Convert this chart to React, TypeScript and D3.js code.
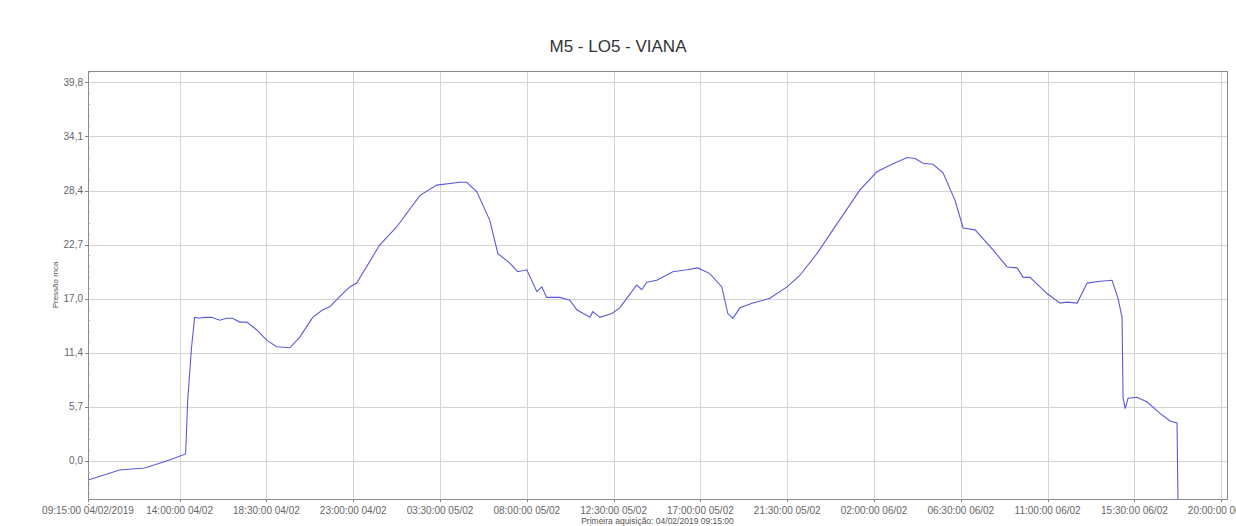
import React from 'react';
import * as d3 from 'd3';

// first acquisition: 04/02/2019 09:15:00
const startTime = new Date(2019, 1, 4, 9, 15, 0);

// hours elapsed since the first acquisition
const elapsedHours: number[] = [
    0, 1.64, 2.94, 4.23, 5.06, 5.17, 5.37, 5.53, 5.79, 6.05, 6.41, 6.83, 7.19, 7.5, 7.86, 8.23,
    8.74, 9.26, 9.78, 10.46, 10.97, 11.65, 12.17, 12.53, 13.2, 13.57, 13.93, 15.12, 16.0, 17.2,
    18.08, 19.27, 19.64, 20.16, 20.83, 21.25, 21.87, 22.28, 22.75, 23.27, 23.53, 23.78, 24.46,
    24.98, 25.34, 26.02, 26.17, 26.54, 27.16, 27.57, 27.93, 28.45, 28.71, 28.97, 29.49, 30.32,
    31.05, 31.62, 32.24, 32.86, 33.17, 33.43, 33.8, 34.47, 35.35, 36.24, 36.9, 37.79, 38.62,
    40.02, 40.9, 41.58, 42.46, 42.88, 43.29, 43.81, 44.33, 44.95, 45.37, 45.99, 46.92, 47.65,
    48.17, 48.48, 48.84, 49.72, 50.4, 50.76, 51.28, 51.8, 52.47, 53.09, 53.4, 53.61, 53.66,
    53.77, 53.92, 54.39, 54.91, 55.58, 56.1, 56.46, 56.51
];

// pressure (mca)
const pressure: number[] = [
    -2.0, -0.95, -0.74, 0.1, 0.74, 6.4, 12.0, 15.1, 15.0, 15.1, 15.1, 14.8, 15.0, 15.0, 14.6, 14.6,
    13.8, 12.7, 12.0, 11.9, 13.0, 15.1, 15.9, 16.2, 17.6, 18.3, 18.7, 22.7, 24.6, 27.9,
    29.0, 29.3, 29.3, 28.3, 25.3, 21.8, 20.8, 19.9, 20.1, 17.8, 18.3, 17.2, 17.2,
    16.9, 15.9, 15.1, 15.7, 15.1, 15.5, 16.1, 17.1, 18.5, 18.0, 18.8, 19.0, 19.9,
    20.1, 20.3, 19.7, 18.3, 15.5, 15.0, 16.1, 16.6, 17.1, 18.3, 19.5, 21.8, 24.3,
    28.5, 30.4, 31.1, 31.9, 31.8, 31.3, 31.2, 30.3, 27.4, 24.5, 24.3, 22.2, 20.4,
    20.3, 19.3, 19.3, 17.6, 16.6, 16.7, 16.6, 18.7, 18.9, 19.0, 17.1, 15.1, 6.7,
    5.5, 6.6, 6.7, 6.2, 5.0, 4.2, 4.0, -4.5
];

// x axis ticks, hours since first acquisition
const xTickHours: number[] = [0, 4.75, 9.25, 13.75, 18.25, 22.75, 27.25, 31.75, 36.25, 40.75, 45.25, 49.75, 54.25, 58.75];
const xTickLabels: string[] = [
    '09:15:00 04/02/2019', '14:00:00 04/02', '18:30:00 04/02', '23:00:00 04/02',
    '03:30:00 05/02', '08:00:00 05/02', '12:30:00 05/02', '17:00:00 05/02', '21:30:00 05/02',
    '02:00:00 06/02', '06:30:00 06/02', '11:00:00 06/02', '15:30:00 06/02', '20:00:00 06/02'
];

const yTicks: number[] = [0, 5.686, 11.371, 17.057, 22.743, 28.429, 34.114, 39.8];
const yTickLabels: string[] = ['0,0', '5,7', '11,4', '17,0', '22,7', '28,4', '34,1', '39,8'];

const title = 'M5 - LO5 - VIANA';
const yTitle = 'Pressão mca';
const footer = 'Primeira aquisição: 04/02/2019 09:15:00';

const W = 1236;
const H = 526;
const margin = { top: 71, right: 9, bottom: 27, left: 88 };
const HOUR = 3600 * 1000;

function App() {
    const at = (h: number) => new Date(startTime.getTime() + h * HOUR);

    const x = d3.scaleTime()
        .domain([startTime, at(59.05)])
        .range([margin.left, W - margin.right]);

    const y = d3.scaleLinear()
        .domain([-4.0, 41.0])
        .range([H - margin.bottom, margin.top]);

    const points: [Date, number][] = elapsedHours.map((h, i) => [at(h), pressure[i]]);
    const line = d3.line<[Date, number]>()
        .x(d => x(d[0]))
        .y(d => y(d[1]));

    const step = yTicks[1] - yTicks[0];
    const yMinor: number[] = [];
    yTicks.forEach(t => {
        for (let k = 1; k < 5; k++) {
            const v = t + (step * k) / 5;
            if (v < 41) yMinor.push(v);
        }
    });
    for (let k = 1; k < 5; k++) yMinor.push(-step * k / 5);

    const x0 = margin.left;
    const x1 = W - margin.right;
    const y0 = margin.top;
    const y1 = H - margin.bottom;
    const font = '"Liberation Sans", Arial, sans-serif';

    return (
        <svg width={W} height={H} style={{ position: 'fixed', left: 0, top: 0, background: '#fff' }}>
            <defs>
                <clipPath id="plot-clip">
                    <rect x={x0} y={y0} width={x1 - x0} height={y1 - y0} />
                </clipPath>
            </defs>

            <text x={W / 2} y={52} textAnchor="middle" fontFamily={font} fontSize={17} fill="#333">
                {title}
            </text>

            {/* grid */}
            <g stroke="#d4d4d4" strokeWidth={1}>
                {yTicks.map((t, i) => (
                    <line key={'gy' + i} x1={x0} x2={x1} y1={Math.round(y(t)) + 0.5} y2={Math.round(y(t)) + 0.5} />
                ))}
                {xTickHours.slice(1).map((h, i) => (
                    <line key={'gx' + i} y1={y0} y2={y1} x1={Math.round(x(at(h))) + 0.5} x2={Math.round(x(at(h))) + 0.5} />
                ))}
            </g>

            <path d={line(points) || ''} fill="none" stroke="#5a5ade" strokeWidth={1.1} clipPath="url(#plot-clip)" />

            {/* frame */}
            <rect x={x0 + 0.5} y={y0 + 0.5} width={x1 - x0} height={y1 - y0} fill="none" stroke="#8a8a8a" />

            {/* y axis */}
            <g fontFamily={font} fontSize={10} fill="#666" textAnchor="end">
                {yTicks.map((t, i) => (
                    <g key={'yt' + i}>
                        <line x1={x0 - 3} x2={x0} y1={Math.round(y(t)) + 0.5} y2={Math.round(y(t)) + 0.5} stroke="#888" />
                        <text x={x0 - 5} y={y(t) + 3.5}>{yTickLabels[i]}</text>
                    </g>
                ))}
                {yMinor.map((t, i) => (
                    <line key={'ym' + i} x1={x0} x2={x0 + 2} y1={Math.round(y(t)) + 0.5} y2={Math.round(y(t)) + 0.5} stroke="#aaa" />
                ))}
            </g>
            <text transform={`translate(58,${(y0 + y1) / 2}) rotate(-90)`} textAnchor="middle"
                fontFamily={font} fontSize={8} fill="#555">
                {yTitle}
            </text>

            {/* x axis */}
            <g fontFamily={font} fontSize={10} fill="#666" textAnchor="middle">
                {xTickHours.map((h, i) => (
                    <g key={'xt' + i}>
                        <line y1={y1} y2={y1 + 3} x1={Math.round(x(at(h))) + 0.5} x2={Math.round(x(at(h))) + 0.5} stroke="#888" />
                        <text x={x(at(h))} y={y1 + 15}>{xTickLabels[i]}</text>
                    </g>
                ))}
            </g>
            <text x={(x0 + x1) / 2} y={H - 2} textAnchor="middle" fontFamily={font} fontSize={8.5} fill="#555">
                {footer}
            </text>
        </svg>
    );
}

export default App;
